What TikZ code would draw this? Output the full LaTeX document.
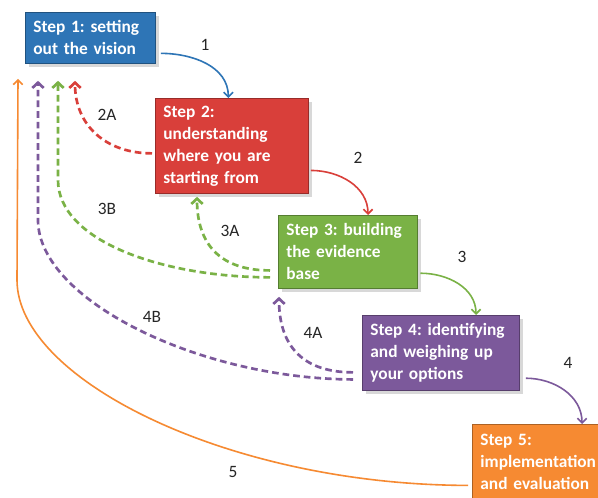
\documentclass[tikz,border=0pt]{standalone}
\usepackage{fontspec}
\setmainfont{Carlito}
\usetikzlibrary{arrows.meta,shadows}
\frenchspacing

\definecolor{stepblue}{RGB}{46,117,182}
\definecolor{stepred}{RGB}{217,63,58}
\definecolor{stepgreen}{RGB}{122,178,70}
\definecolor{steppurple}{RGB}{124,89,155}
\definecolor{steporange}{RGB}{246,138,50}

\tikzset{
  stepbox/.style={draw=#1!70!black, fill=#1, line width=0.6pt, text=white,
    font=\fontsize{13}{16.5}\selectfont\bfseries, align=left, anchor=north west,
    inner xsep=6pt, drop shadow={shadow xshift=3pt,shadow yshift=-3pt,opacity=0.3}},
  fwd/.style={draw=#1, line width=1.2pt, -{Straight Barb[length=3.5pt,width=7pt]}},
  back/.style={draw=#1, line width=2pt, dash pattern=on 5pt off 3pt,
    -{Straight Barb[length=4pt,width=8.5pt]}},
  lbl/.style={font=\fontsize{13}{15}\selectfont, text=black!85}
}

\begin{document}
\begin{tikzpicture}[x=0.75pt,y=-0.75pt]
\path[use as bounding box, clip] (0,0) rectangle (598,498);
\fill[white] (0,0) rectangle (598,498);

\node[stepbox=stepblue, text width=85.5pt, minimum height=38.25pt] (s1) at (25,12)
  {Step 1: setting\\out the vision};
\node[stepbox=stepred, text width=102.75pt, minimum height=71.25pt] (s2) at (155,98)
  {Step 2:\\understanding\\where you are\\starting from};
\node[stepbox=stepgreen, text width=92.25pt, minimum height=54.75pt] (s3) at (278,215)
  {Step 3: building\\the evidence\\base};
\node[stepbox=steppurple, text width=105.75pt, minimum height=56.25pt] (s4) at (362,315)
  {Step 4: identifying\\and weighing up\\your options};
\node[stepbox=steporange, text width=100.5pt, minimum height=55.5pt] (s5) at (472,424)
  {Step 5:\\implementation\\and evaluation};

\draw[fwd=stepblue] ([xshift=3.75pt,yshift=-11.6pt]s1.east) to[out=0,in=90] ([xshift=55pt]s2.north west);
\draw[fwd=stepred] ([xshift=1.5pt,yshift=-18.4pt]s2.east) to[out=0,in=90] ([xshift=67.5pt]s3.north west);
\draw[fwd=stepgreen] ([xshift=2pt,yshift=-16pt]s3.east) to[out=0,in=90] ([xshift=85.5pt]s4.north west);
\draw[fwd=steppurple] ([xshift=4.5pt,yshift=-19pt]s4.east) to[out=0,in=90] ([xshift=82.5pt]s5.north west);

\draw[back=stepred] ([xshift=-2.25pt,yshift=-5.6pt]s2.west) to[out=180,in=-90,looseness=1.1] ([xshift=37.5pt,yshift=-12.75pt]s1.south west);
\draw[back=stepgreen] ([xshift=-6pt,yshift=-13.9pt]s3.west) to[out=180,in=-90,looseness=1.2] ([xshift=31.5pt,yshift=-2.25pt]s2.south west);
\draw[back=stepgreen] ([xshift=-6pt,yshift=-19.1pt]s3.west) .. controls (160,277) and (58,240) .. (58,180)
  -- ([xshift=24.75pt,yshift=-12.75pt]s1.south west);
\draw[back=steppurple] ([xshift=-6.75pt,yshift=-14.6pt]s4.west) to[out=180,in=-90,looseness=1.2] ([xshift=0.75pt,yshift=-6pt]s3.south west);
\draw[back=steppurple] ([xshift=-6.75pt,yshift=-19.9pt]s4.west) .. controls (200,379) and (38,300) .. (38,220)
  -- ([xshift=9.75pt,yshift=-12.75pt]s1.south west);
\draw[fwd=steporange] ([xshift=-3pt,yshift=-18pt]s5.west) .. controls (230,485) and (17,380) .. (17,280)
  -- ([xshift=-5.25pt,yshift=-11.25pt]s1.south west);

\node[lbl] (n1) at (205,45) {1};
\node[lbl] (n2) at (358,158) {2};
\node[lbl] (n3) at (462,257) {3};
\node[lbl] (n4) at (568,363) {4};
\node[lbl] (n5) at (233,472) {5};
\node[lbl] (n2a) at (107,115) {2A};
\node[lbl] (n3a) at (230,231) {3A};
\node[lbl] (n3b) at (107,209) {3B};
\node[lbl] (n4a) at (313,333) {4A};
\node[lbl] (n4b) at (152,317) {4B};
\end{tikzpicture}
\end{document}
